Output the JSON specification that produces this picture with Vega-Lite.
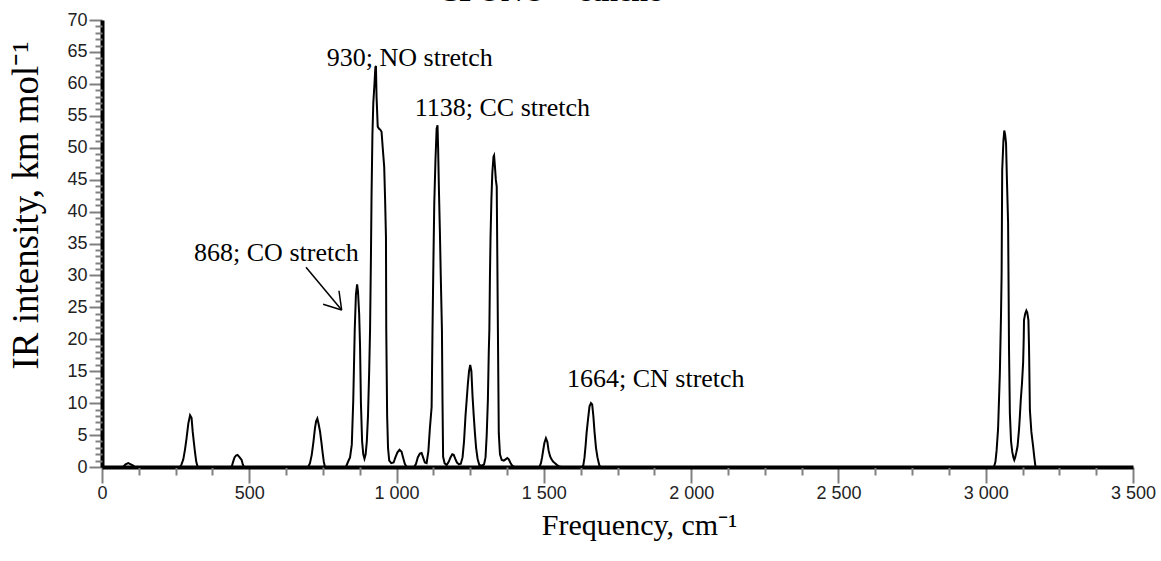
{
  "$schema": "https://vega.github.io/schema/vega-lite/v6.json",
  "width": 1031,
  "height": 447,
  "autosize": {"type": "none"},
  "padding": {"left": 102, "top": 20, "right": 28, "bottom": 94},
  "background": "white",
  "title": {"text": "CFONO + ethene", "font": "Liberation Serif", "fontSize": 30, "fontWeight": "bold", "color": "black", "anchor": "middle", "frame": "group", "baseline": "alphabetic", "offset": -20, "dx": -68},
  "config": {"view": {"stroke": null}},
  "datasets": {
    "spectrum": [
      {"freq": 0, "intensity": 0}, {"freq": 60, "intensity": 0}, {"freq": 72, "intensity": 0.05}, {"freq": 80, "intensity": 0.4}, {"freq": 89, "intensity": 0.6}, {"freq": 98, "intensity": 0.4}, {"freq": 106, "intensity": 0.2}, {"freq": 112, "intensity": 0},
      {"freq": 265, "intensity": 0}, {"freq": 270, "intensity": 0.4}, {"freq": 276, "intensity": 1.2}, {"freq": 282, "intensity": 2.8}, {"freq": 287, "intensity": 4.5}, {"freq": 293, "intensity": 6.8}, {"freq": 299, "intensity": 8.1}, {"freq": 304, "intensity": 7.7}, {"freq": 308, "intensity": 5.5}, {"freq": 312, "intensity": 3.8}, {"freq": 316, "intensity": 2.2}, {"freq": 320, "intensity": 0.8}, {"freq": 325, "intensity": 0},
      {"freq": 440, "intensity": 0}, {"freq": 445, "intensity": 0.8}, {"freq": 450, "intensity": 1.5}, {"freq": 455, "intensity": 1.8}, {"freq": 460, "intensity": 1.9}, {"freq": 466, "intensity": 1.6}, {"freq": 474, "intensity": 1.1}, {"freq": 478, "intensity": 0.4}, {"freq": 482, "intensity": 0},
      {"freq": 700, "intensity": 0}, {"freq": 706, "intensity": 0.6}, {"freq": 712, "intensity": 1.9}, {"freq": 718, "intensity": 4}, {"freq": 723, "intensity": 6.1}, {"freq": 727, "intensity": 7.2}, {"freq": 731, "intensity": 7.6}, {"freq": 735, "intensity": 6.8}, {"freq": 740, "intensity": 5.6}, {"freq": 745, "intensity": 3.8}, {"freq": 749, "intensity": 2.2}, {"freq": 753, "intensity": 0.8}, {"freq": 757, "intensity": 0},
      {"freq": 828, "intensity": 0}, {"freq": 836, "intensity": 0.9}, {"freq": 842, "intensity": 1.5}, {"freq": 848, "intensity": 3.5}, {"freq": 853, "intensity": 10.5}, {"freq": 858, "intensity": 21.5}, {"freq": 862, "intensity": 27}, {"freq": 866, "intensity": 28.6}, {"freq": 869, "intensity": 27.5}, {"freq": 873, "intensity": 24}, {"freq": 876, "intensity": 19}, {"freq": 879, "intensity": 10}, {"freq": 883, "intensity": 4}, {"freq": 887, "intensity": 2}, {"freq": 891, "intensity": 1.3}, {"freq": 895, "intensity": 2}, {"freq": 899, "intensity": 4}, {"freq": 903, "intensity": 8}, {"freq": 907, "intensity": 15}, {"freq": 910, "intensity": 21.5}, {"freq": 913, "intensity": 33}, {"freq": 915, "intensity": 42.3}, {"freq": 918, "intensity": 52}, {"freq": 921, "intensity": 57}, {"freq": 925, "intensity": 60}, {"freq": 928, "intensity": 62.6}, {"freq": 930, "intensity": 62.8}, {"freq": 932, "intensity": 58}, {"freq": 936, "intensity": 53.3}, {"freq": 940, "intensity": 53}, {"freq": 945, "intensity": 52.8}, {"freq": 949, "intensity": 52.5}, {"freq": 953, "intensity": 50}, {"freq": 958, "intensity": 47}, {"freq": 961, "intensity": 42}, {"freq": 964, "intensity": 36}, {"freq": 965, "intensity": 21.5}, {"freq": 968, "intensity": 8}, {"freq": 971, "intensity": 3}, {"freq": 975, "intensity": 1}, {"freq": 982, "intensity": 0.6}, {"freq": 990, "intensity": 0.7}, {"freq": 996, "intensity": 1.5}, {"freq": 1003, "intensity": 2.3}, {"freq": 1010, "intensity": 2.7}, {"freq": 1017, "intensity": 2.4}, {"freq": 1022, "intensity": 1.5}, {"freq": 1028, "intensity": 0.5}, {"freq": 1034, "intensity": 0},
      {"freq": 1060, "intensity": 0}, {"freq": 1066, "intensity": 0.5}, {"freq": 1072, "intensity": 1.5}, {"freq": 1079, "intensity": 2.1}, {"freq": 1085, "intensity": 2.2}, {"freq": 1090, "intensity": 1.5}, {"freq": 1096, "intensity": 0.7}, {"freq": 1102, "intensity": 0.6}, {"freq": 1108, "intensity": 2.5}, {"freq": 1113, "intensity": 6}, {"freq": 1119, "intensity": 9.4}, {"freq": 1122, "intensity": 21.5}, {"freq": 1125, "intensity": 32}, {"freq": 1128, "intensity": 41.3}, {"freq": 1132, "intensity": 48}, {"freq": 1136, "intensity": 53}, {"freq": 1139, "intensity": 53.5}, {"freq": 1141, "intensity": 50}, {"freq": 1144, "intensity": 43}, {"freq": 1147, "intensity": 37}, {"freq": 1150, "intensity": 30}, {"freq": 1154, "intensity": 21.5}, {"freq": 1156, "intensity": 10}, {"freq": 1158, "intensity": 1.6}, {"freq": 1163, "intensity": 0.6}, {"freq": 1170, "intensity": 0.3}, {"freq": 1177, "intensity": 0.8}, {"freq": 1183, "intensity": 1.5}, {"freq": 1189, "intensity": 2}, {"freq": 1194, "intensity": 1.9}, {"freq": 1199, "intensity": 1.3}, {"freq": 1205, "intensity": 0.7}, {"freq": 1212, "intensity": 0.4}, {"freq": 1218, "intensity": 0.5}, {"freq": 1224, "intensity": 1.5}, {"freq": 1229, "intensity": 4}, {"freq": 1234, "intensity": 8}, {"freq": 1238, "intensity": 10.5}, {"freq": 1242, "intensity": 13}, {"freq": 1246, "intensity": 15}, {"freq": 1250, "intensity": 16}, {"freq": 1254, "intensity": 15}, {"freq": 1258, "intensity": 11}, {"freq": 1262, "intensity": 8}, {"freq": 1266, "intensity": 5.3}, {"freq": 1270, "intensity": 3}, {"freq": 1275, "intensity": 1.3}, {"freq": 1281, "intensity": 0.3}, {"freq": 1290, "intensity": 0.2}, {"freq": 1297, "intensity": 0.4}, {"freq": 1302, "intensity": 1.5}, {"freq": 1306, "intensity": 5}, {"freq": 1310, "intensity": 10.5}, {"freq": 1313, "intensity": 18}, {"freq": 1315, "intensity": 21.5}, {"freq": 1317, "intensity": 30}, {"freq": 1319, "intensity": 36}, {"freq": 1322, "intensity": 42}, {"freq": 1325, "intensity": 46}, {"freq": 1329, "intensity": 48.6}, {"freq": 1331, "intensity": 48.8}, {"freq": 1334, "intensity": 47}, {"freq": 1337, "intensity": 45}, {"freq": 1340, "intensity": 43.9}, {"freq": 1342, "intensity": 33}, {"freq": 1344, "intensity": 21.5}, {"freq": 1347, "intensity": 5.3}, {"freq": 1351, "intensity": 2}, {"freq": 1357, "intensity": 1.1}, {"freq": 1364, "intensity": 1}, {"freq": 1370, "intensity": 1.2}, {"freq": 1376, "intensity": 1.4}, {"freq": 1381, "intensity": 1.2}, {"freq": 1386, "intensity": 0.7}, {"freq": 1391, "intensity": 0.3}, {"freq": 1396, "intensity": 0.1}, {"freq": 1400, "intensity": 0},
      {"freq": 1485, "intensity": 0}, {"freq": 1490, "intensity": 0.6}, {"freq": 1494, "intensity": 1.5}, {"freq": 1498, "intensity": 2.7}, {"freq": 1502, "intensity": 3.8}, {"freq": 1507, "intensity": 4.5}, {"freq": 1512, "intensity": 3.9}, {"freq": 1516, "intensity": 2.6}, {"freq": 1521, "intensity": 1.7}, {"freq": 1526, "intensity": 1.2}, {"freq": 1532, "intensity": 0.8}, {"freq": 1538, "intensity": 0.6}, {"freq": 1545, "intensity": 0.3}, {"freq": 1552, "intensity": 0.1}, {"freq": 1560, "intensity": 0},
      {"freq": 1630, "intensity": 0}, {"freq": 1634, "intensity": 0.3}, {"freq": 1638, "intensity": 1.5}, {"freq": 1642, "intensity": 3.5}, {"freq": 1645, "intensity": 5.3}, {"freq": 1650, "intensity": 7.5}, {"freq": 1655, "intensity": 9.5}, {"freq": 1660, "intensity": 10}, {"freq": 1664, "intensity": 9.8}, {"freq": 1668, "intensity": 8}, {"freq": 1672, "intensity": 5.5}, {"freq": 1677, "intensity": 3}, {"freq": 1682, "intensity": 1.5}, {"freq": 1688, "intensity": 0.3}, {"freq": 1692, "intensity": 0},
      {"freq": 3028, "intensity": 0}, {"freq": 3033, "intensity": 0.8}, {"freq": 3037, "intensity": 2.6}, {"freq": 3042, "intensity": 6}, {"freq": 3048, "intensity": 14.7}, {"freq": 3052, "intensity": 24}, {"freq": 3054, "intensity": 30.3}, {"freq": 3056, "intensity": 46.5}, {"freq": 3060, "intensity": 51}, {"freq": 3063, "intensity": 52.7}, {"freq": 3066, "intensity": 52}, {"freq": 3069, "intensity": 50.7}, {"freq": 3072, "intensity": 45}, {"freq": 3076, "intensity": 38.2}, {"freq": 3078, "intensity": 26}, {"freq": 3079, "intensity": 18.8}, {"freq": 3082, "intensity": 8.4}, {"freq": 3086, "intensity": 4}, {"freq": 3090, "intensity": 2.4}, {"freq": 3094, "intensity": 1.5}, {"freq": 3097, "intensity": 1.1}, {"freq": 3100, "intensity": 1.5}, {"freq": 3104, "intensity": 2.3}, {"freq": 3108, "intensity": 3.2}, {"freq": 3113, "intensity": 5.8}, {"freq": 3116, "intensity": 8}, {"freq": 3119, "intensity": 10.5}, {"freq": 3123, "intensity": 13}, {"freq": 3127, "intensity": 16.3}, {"freq": 3129, "intensity": 20}, {"freq": 3130, "intensity": 23}, {"freq": 3134, "intensity": 24}, {"freq": 3138, "intensity": 24.5}, {"freq": 3141, "intensity": 24.2}, {"freq": 3145, "intensity": 23}, {"freq": 3147, "intensity": 18.8}, {"freq": 3150, "intensity": 8.9}, {"freq": 3155, "intensity": 5.5}, {"freq": 3161, "intensity": 3.2}, {"freq": 3165, "intensity": 1.5}, {"freq": 3169, "intensity": 0}, {"freq": 3500, "intensity": 0}
    ],
    "labels": [
      {"freq": 1045, "intensity": 62.8, "label": "930; NO stretch"},
      {"freq": 1359, "intensity": 55.0, "label": "1138; CC stretch"},
      {"freq": 592, "intensity": 32.3, "label": "868; CO stretch"},
      {"freq": 1880, "intensity": 12.6, "label": "1664; CN stretch"}
    ],
    "arrow": [
      {"freq": 692.5, "intensity": 31.27, "freq2": 813.6, "intensity2": 24.58},
      {"freq": 750.6, "intensity": 25.48, "freq2": 813.6, "intensity2": 24.58},
      {"freq": 804.5, "intensity": 27.6, "freq2": 813.6, "intensity2": 24.58}
    ]
  },
  "resolve": {"axis": {"x": "independent", "y": "independent"}},
  "layer": [
    {
      "data": {"name": "spectrum"},
      "mark": {"type": "line", "color": "black", "strokeWidth": 2, "interpolate": "linear"},
      "encoding": {
        "x": {
          "field": "freq", "type": "quantitative",
          "scale": {"domain": [0, 3500], "nice": false, "zero": false},
          "axis": {
            "orient": "bottom",
            "title": "Frequency, cm⁻¹",
            "values": [0, 500, 1000, 1500, 2000, 2500, 3000, 3500],
            "labelExpr": "replace(format(datum.value, ','), ',', ' ')",
            "ticks": true, "tickSize": 16,
            "labelFont": "Liberation Sans", "labelFontSize": 18, "labelColor": "#222", "labelPadding": 1,
            "labelOverlap": false, "labelFlush": false, "labelBound": false,
            "domain": true, "domainColor": "black", "domainWidth": 4, "tickColor": "#808080", "tickWidth": 2,
            "titleFont": "Liberation Serif", "titleFontSize": 30, "titleFontWeight": "normal", "titleColor": "black",
            "titlePadding": 8, "titleX": 537, "titleAlign": "center", "grid": false
          }
        },
        "y": {
          "field": "intensity", "type": "quantitative",
          "scale": {"domain": [0, 70], "nice": false},
          "axis": {
            "orient": "left",
            "title": "IR intensity, km mol⁻¹",
            "values": [0, 5, 10, 15, 20, 25, 30, 35, 40, 45, 50, 55, 60, 65, 70],
            "ticks": true, "tickSize": 13,
            "labelFont": "Liberation Sans", "labelFontSize": 18, "labelColor": "#222", "labelPadding": 2,
            "labelOverlap": false, "labelFlush": false, "labelBound": false,
            "domain": true, "domainColor": "black", "domainWidth": 4, "tickColor": "#808080", "tickWidth": 2,
            "titleFont": "Liberation Serif", "titleFontSize": 37, "titleFontWeight": "normal", "titleColor": "black",
            "titlePadding": 21, "titleY": 185, "titleAlign": "center", "grid": false
          }
        }
      }
    },
    {
      "data": {"name": "arrow"},
      "mark": {"type": "rule", "color": "black", "strokeWidth": 1.5},
      "encoding": {
        "x": {"field": "freq", "type": "quantitative", "axis": null},
        "y": {"field": "intensity", "type": "quantitative", "axis": null},
        "x2": {"field": "freq2"},
        "y2": {"field": "intensity2"}
      }
    },
    {
      "data": {"name": "labels"},
      "mark": {"type": "text", "font": "Liberation Serif", "fontSize": 26, "align": "center", "baseline": "alphabetic", "color": "black"},
      "encoding": {
        "x": {
          "field": "freq", "type": "quantitative",
          "axis": {
            "orient": "bottom", "title": null, "labels": false, "domain": false, "grid": false, "ticks": true,
            "values": [125, 250, 375, 625, 750, 875, 1125, 1250, 1375, 1625, 1750, 1875, 2125, 2250, 2375, 2625, 2750, 2875, 3125, 3250, 3375],
            "tickSize": 8, "tickColor": "#808080", "tickWidth": 2
          }
        },
        "y": {
          "field": "intensity", "type": "quantitative",
          "axis": {
            "orient": "left", "title": null, "labels": false, "domain": false, "grid": false, "ticks": true,
            "values": [1, 2, 3, 4, 6, 7, 8, 9, 11, 12, 13, 14, 16, 17, 18, 19, 21, 22, 23, 24, 26, 27, 28, 29, 31, 32, 33, 34, 36, 37, 38, 39, 41, 42, 43, 44, 46, 47, 48, 49, 51, 52, 53, 54, 56, 57, 58, 59, 61, 62, 63, 64, 66, 67, 68, 69],
            "tickSize": 7, "tickColor": "#808080", "tickWidth": 2
          }
        },
        "text": {"field": "label", "type": "nominal"}
      }
    }
  ]
}
